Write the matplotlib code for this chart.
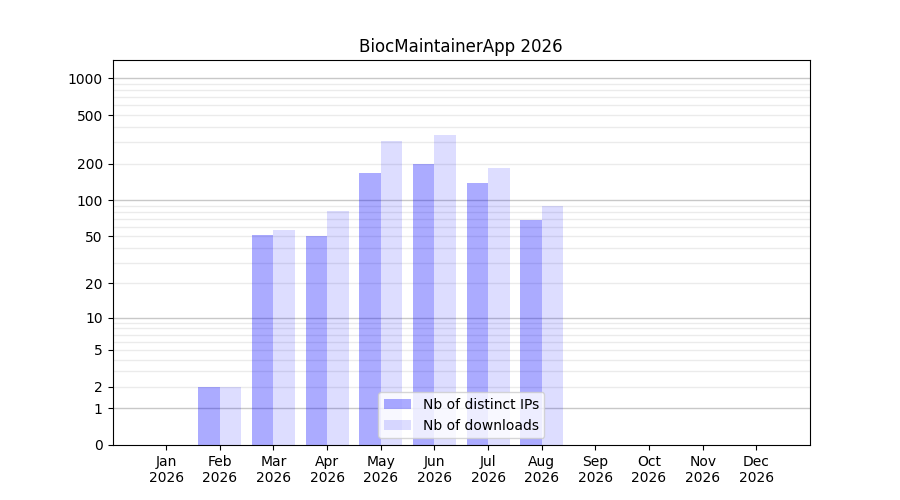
import numpy as np
import matplotlib
matplotlib.use("Agg")
import matplotlib.pyplot as plt

months = ['Jan', 'Feb', 'Mar', 'Apr', 'May', 'Jun', 'Jul', 'Aug', 'Sep', 'Oct', 'Nov', 'Dec']
year = 2026
nb_ips = [0, 2, 51, 50, 168, 198, 138, 68, 0, 0, 0, 0]
nb_downloads = [0, 2, 56, 81, 306, 343, 184, 89, 0, 0, 0, 0]

tick_values = [0, 1, 2, 5, 10, 20, 50, 100, 200, 500, 1000]
major_grid = [1, 10, 100, 1000]
minor_grid = [2, 3, 4, 5, 6, 7, 8, 9,
              20, 30, 40, 50, 60, 70, 80, 90,
              200, 300, 400, 500, 600, 700, 800, 900]


def tr(v):
    # log scale that also shows 0
    return np.log10(np.asarray(v) + 1)


fig, ax = plt.subplots(figsize=(9, 5), dpi=100)

x = np.arange(1, 13)
ax.bar(x - 0.2, tr(nb_ips), width=0.4, color='blue', alpha=0.33,
       label='Nb of distinct IPs', zorder=2)
ax.bar(x + 0.2, tr(nb_downloads), width=0.4, color='blue', alpha=0.135,
       label='Nb of downloads', zorder=2)

for v in minor_grid:
    ax.axhline(tr(v), color='#ebebeb', linewidth=1, zorder=1)
for v in major_grid:
    ax.axhline(tr(v), color='#c8c8c8', linewidth=1, zorder=1)

ax.set_yticks(tr(tick_values))
ax.set_yticklabels([str(v) for v in tick_values])
ax.set_ylim(0, 3.151)

ax.set_xticks(x)
ax.set_xticklabels([m + '\n' + str(year) for m in months])
ax.set_xlim(0, 13)

ax.set_title('BiocMaintainerApp 2026')
ax.legend(loc='lower center')

fig.savefig('out.png')
